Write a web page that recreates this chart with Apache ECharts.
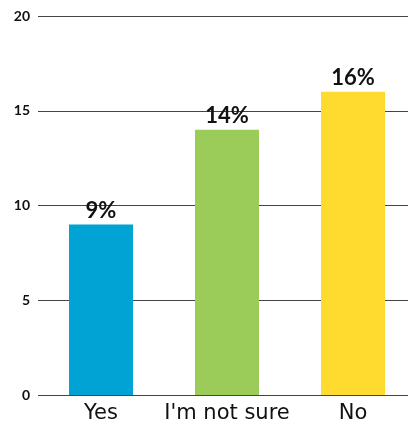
<!DOCTYPE html>
<html>
<head>
<meta charset="utf-8">
<script src="https://cdn.jsdelivr.net/npm/echarts@6/dist/echarts.min.js"></script>
<style>
  html, body { margin: 0; padding: 0; background: #fff; }
  #chart { width: 408px; height: 427px; }
</style>
</head>
<body>
<div id="chart"></div>
<script>
const categories = ['Yes', "I'm not sure", 'No']
const values = [9, 14, 16]
const barColors = ['#00A3D4', '#9BCB59', '#FFDA2F']

const chart = echarts.init(document.getElementById('chart'))

const option = {
  animation: false,
  grid: {
    left: 38,
    top: 16,
    width: 378,
    bottom: 32,
    outerBoundsMode: 'none'
  },
  xAxis: {
    type: 'category',
    data: categories,
    axisLine: { show: false },
    axisTick: { show: false },
    axisLabel: {
      interval: 0,
      color: '#111',
      fontFamily: 'DejaVu Sans',
      fontSize: 21,
      margin: 8
    }
  },
  yAxis: {
    type: 'value',
    min: 0,
    max: 20,
    interval: 5,
    axisLine: { show: false },
    axisTick: { show: false },
    axisLabel: {
      color: '#111',
      fontFamily: 'Lato',
      fontWeight: 'bold',
      fontSize: 14,
      margin: 8
    },
    splitLine: {
      lineStyle: { color: '#444', width: 1 }
    }
  },
  series: [{
    type: 'bar',
    barWidth: 64,
    z: 1,
    data: values.map((v, i) => ({ value: v, itemStyle: { color: barColors[i] } })),
    label: {
      show: true,
      position: 'top',
      distance: 3,
      formatter: '{c}%',
      color: '#111',
      fontFamily: 'Lato',
      fontWeight: 'bold',
      fontSize: 22
    }
  }]
}

chart.setOption(option)
</script>
</body>
</html>
